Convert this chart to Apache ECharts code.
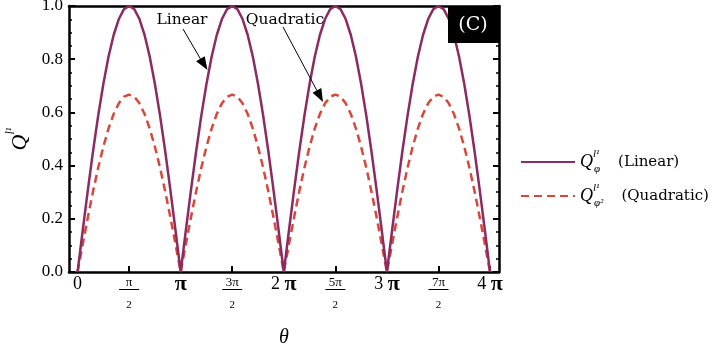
<!DOCTYPE html>
<html>
<head>
<meta charset="utf-8">
<script src="https://cdn.jsdelivr.net/npm/echarts@6/dist/echarts.min.js"></script>
<style>
  html, body { margin: 0; padding: 0; background: #fff; }
  #main { width: 723px; height: 355px; }
</style>
</head>
<body>
<div id="main"></div>
<script>
// theta in units of pi
var thetaOverPi = [
  0, 0.05, 0.1, 0.15, 0.2, 0.25, 0.3, 0.35, 0.4, 0.45, 0.5, 0.55, 0.6, 0.65, 0.7, 0.75, 0.8, 0.85, 0.9, 0.95,
  1, 1.05, 1.1, 1.15, 1.2, 1.25, 1.3, 1.35, 1.4, 1.45, 1.5, 1.55, 1.6, 1.65, 1.7, 1.75, 1.8, 1.85, 1.9, 1.95,
  2, 2.05, 2.1, 2.15, 2.2, 2.25, 2.3, 2.35, 2.4, 2.45, 2.5, 2.55, 2.6, 2.65, 2.7, 2.75, 2.8, 2.85, 2.9, 2.95,
  3, 3.05, 3.1, 3.15, 3.2, 3.25, 3.3, 3.35, 3.4, 3.45, 3.5, 3.55, 3.6, 3.65, 3.7, 3.75, 3.8, 3.85, 3.9, 3.95,
  4
];
var linearVals = [
  0, 0.156, 0.309, 0.454, 0.588, 0.707, 0.809, 0.891, 0.951, 0.988, 1.0, 0.988, 0.951, 0.891, 0.809, 0.707, 0.588, 0.454, 0.309, 0.156,
  0, 0.156, 0.309, 0.454, 0.588, 0.707, 0.809, 0.891, 0.951, 0.988, 1.0, 0.988, 0.951, 0.891, 0.809, 0.707, 0.588, 0.454, 0.309, 0.156,
  0, 0.156, 0.309, 0.454, 0.588, 0.707, 0.809, 0.891, 0.951, 0.988, 1.0, 0.988, 0.951, 0.891, 0.809, 0.707, 0.588, 0.454, 0.309, 0.156,
  0, 0.156, 0.309, 0.454, 0.588, 0.707, 0.809, 0.891, 0.951, 0.988, 1.0, 0.988, 0.951, 0.891, 0.809, 0.707, 0.588, 0.454, 0.309, 0.156,
  0
];
var quadraticVals = [
  0, 0.104, 0.206, 0.303, 0.392, 0.471, 0.539, 0.594, 0.634, 0.659, 0.667, 0.659, 0.634, 0.594, 0.539, 0.471, 0.392, 0.303, 0.206, 0.104,
  0, 0.104, 0.206, 0.303, 0.392, 0.471, 0.539, 0.594, 0.634, 0.659, 0.667, 0.659, 0.634, 0.594, 0.539, 0.471, 0.392, 0.303, 0.206, 0.104,
  0, 0.104, 0.206, 0.303, 0.392, 0.471, 0.539, 0.594, 0.634, 0.659, 0.667, 0.659, 0.634, 0.594, 0.539, 0.471, 0.392, 0.303, 0.206, 0.104,
  0, 0.104, 0.206, 0.303, 0.392, 0.471, 0.539, 0.594, 0.634, 0.659, 0.667, 0.659, 0.634, 0.594, 0.539, 0.471, 0.392, 0.303, 0.206, 0.104,
  0
];
var xTicks = [0, 0.5, 1, 1.5, 2, 2.5, 3, 3.5, 4];
var xTickLabels = [
  "{n|0}",
  "{fn|π}\n{bar| }\n{fd|2}",
  "{pi|π}",
  "{fn|3π}\n{bar| }\n{fd|2}",
  "{n|2 }{pi|π}",
  "{fn|5π}\n{bar| }\n{fd|2}",
  "{n|3 }{pi|π}",
  "{fn|7π}\n{bar| }\n{fd|2}",
  "{n|4 }{pi|π}"
];

var SERIF = "'Liberation Serif', 'DejaVu Serif', serif";
var WIDE = "'DejaVu Serif', serif";

function pairs(xs, ys) {
  var res = [];
  for (var i = 0; i < xs.length; i++) res.push([xs[i], ys[i]]);
  return res;
}

var mathRich = {
  q: { fontFamily: SERIF, fontStyle: "italic", fontSize: 18, color: "#000", lineHeight: 26 },
  sup: { fontFamily: SERIF, fontStyle: "italic", fontSize: 11, color: "#000", lineHeight: 10, verticalAlign: "top", width: 1 },
  sub: { fontFamily: SERIF, fontStyle: "italic", fontSize: 11, color: "#000", lineHeight: 12, verticalAlign: "bottom" },
  t: { fontFamily: WIDE, fontSize: 15, color: "#000", padding: [0, 0, 0, 18] }
};
var nameRich = {
  q: { fontFamily: SERIF, fontStyle: "italic", fontSize: 22, color: "#000", lineHeight: 30 },
  sup: { fontFamily: SERIF, fontStyle: "italic", fontSize: 12, color: "#000", lineHeight: 12, verticalAlign: "top" }
};

var myChart = echarts.init(document.getElementById("main"));

var option = {
  animation: false,
  backgroundColor: "#fff",
  grid: { left: 69, right: 224, top: 6, bottom: 83, outerBoundsMode: "none", containLabel: false },
  legend: {
    orient: "vertical",
    left: 515,
    top: 144,
    itemGap: 8,
    itemWidth: 54,
    itemHeight: 10,
    data: ["Linear", "Quadratic"],
    itemStyle: { opacity: 0 },
    formatter: function (name) {
      if (name === "Linear") return "{q|Q}{sup|l¹}{sub|φ}{t|(Linear)}";
      return "{q|Q}{sup|l¹}{sub|φ²}{t|(Quadratic)}";
    },
    textStyle: { rich: mathRich }
  },
  xAxis: [
    {
      type: "value",
      min: -0.083,
      max: 4.087,
      name: "θ",
      nameLocation: "middle",
      nameGap: 56,
      nameTextStyle: { fontFamily: SERIF, fontStyle: "italic", fontSize: 20, color: "#000" },
      axisLine: { onZero: false, lineStyle: { color: "#000", width: 2.5 } },
      axisTick: { inside: true, length: 6, lineStyle: { color: "#000", width: 2 }, customValues: xTicks },
      splitLine: { show: false },
      axisLabel: {
        customValues: xTicks,
        margin: 4,
        color: "#000",
        fontFamily: SERIF,
        fontSize: 16,
        formatter: function (v) {
          var i = xTicks.indexOf(v);
          return i >= 0 ? xTickLabels[i] : "";
        },
        rich: {
          pi: { fontFamily: SERIF, fontWeight: "bold", fontSize: 22, color: "#000", lineHeight: 16 },
          n: { fontFamily: SERIF, fontSize: 18, color: "#000", lineHeight: 16 },
          fn: { fontFamily: SERIF, fontSize: 13, color: "#000", lineHeight: 13 },
          bar: { backgroundColor: "#000", width: 20, height: 1, lineHeight: 1, fontSize: 1 },
          fd: { fontFamily: SERIF, fontSize: 11, color: "#000", lineHeight: 30 }
        }
      }
    },
    {
      type: "value",
      position: "top",
      min: -0.083,
      max: 4.087,
      axisLine: { onZero: false, lineStyle: { color: "#000", width: 2.5 } },
      axisTick: { show: false },
      axisLabel: { show: false },
      splitLine: { show: false }
    }
  ],
  yAxis: [
    {
      type: "value",
      min: 0,
      max: 1,
      interval: 0.2,
      name: "{q|Q}{sup|l¹}",
      nameLocation: "middle",
      nameRotate: 90,
      nameGap: 22,
      nameTextStyle: { rich: nameRich },
      axisLine: { show: true, onZero: false, lineStyle: { color: "#000", width: 2.5 } },
      axisTick: { inside: true, length: 6, lineStyle: { color: "#000", width: 2 } },
      minorTick: { show: true, splitNumber: 4, length: 3, lineStyle: { color: "#000", width: 1.5 } },
      splitLine: { show: false },
      axisLabel: {
        margin: 6,
        color: "#000",
        fontFamily: SERIF,
        fontSize: 17,
        formatter: function (v) { return v.toFixed(1); }
      }
    },
    {
      type: "value",
      position: "right",
      min: 0,
      max: 1,
      interval: 0.2,
      axisLine: { show: true, onZero: false, lineStyle: { color: "#000", width: 2.5 } },
      axisTick: { inside: true, length: 6, lineStyle: { color: "#000", width: 2 } },
      minorTick: { show: true, splitNumber: 4, length: 3, lineStyle: { color: "#000", width: 1.5 } },
      splitLine: { show: false },
      axisLabel: { show: false }
    }
  ],
  series: [
    {
      name: "Linear",
      type: "line",
      symbol: "none",
      data: pairs(thetaOverPi, linearVals),
      lineStyle: { color: "#8C2B61", width: 2.5 },
      itemStyle: { color: "#8C2B61" },
      z: 3
    },
    {
      name: "Quadratic",
      type: "line",
      symbol: "none",
      data: pairs(thetaOverPi, quadraticVals),
      lineStyle: { color: "#D8473A", width: 2.5, type: [8, 5] },
      itemStyle: { color: "#D8473A" },
      z: 2
    }
  ],
  graphic: [
    { type: "rect", shape: { x: 448, y: 6, width: 51, height: 37 }, style: { fill: "#000" }, z: 10 },
    { type: "text", x: 473, y: 25, style: { text: "(C)", fill: "#fff", font: "19px " + WIDE, align: "center", verticalAlign: "middle" }, z: 11 },
    { type: "text", x: 182, y: 20, style: { text: "Linear", fill: "#000", font: "15.5px " + WIDE, align: "center", verticalAlign: "middle" }, z: 11 },
    { type: "line", shape: { x1: 183, y1: 29, x2: 200.4, y2: 58.8 }, style: { stroke: "#000", lineWidth: 1 }, z: 11 },
    { type: "polygon", shape: { points: [[207.5, 70], [196.1, 61.3], [204.7, 56.3]] }, style: { fill: "#000" }, z: 11 },
    { type: "text", x: 285, y: 20, style: { text: "Quadratic", fill: "#000", font: "15.5px " + WIDE, align: "center", verticalAlign: "middle" }, z: 11 },
    { type: "line", shape: { x1: 283, y1: 27, x2: 316.9, y2: 90.5 }, style: { stroke: "#000", lineWidth: 1 }, z: 11 },
    { type: "polygon", shape: { points: [[323, 102], [312.5, 92.8], [321.3, 88.1]] }, style: { fill: "#000" }, z: 11 }
  ]
};

myChart.setOption(option);
window.addEventListener("resize", function () {
  myChart.resize();
});
</script>
</body>
</html>
